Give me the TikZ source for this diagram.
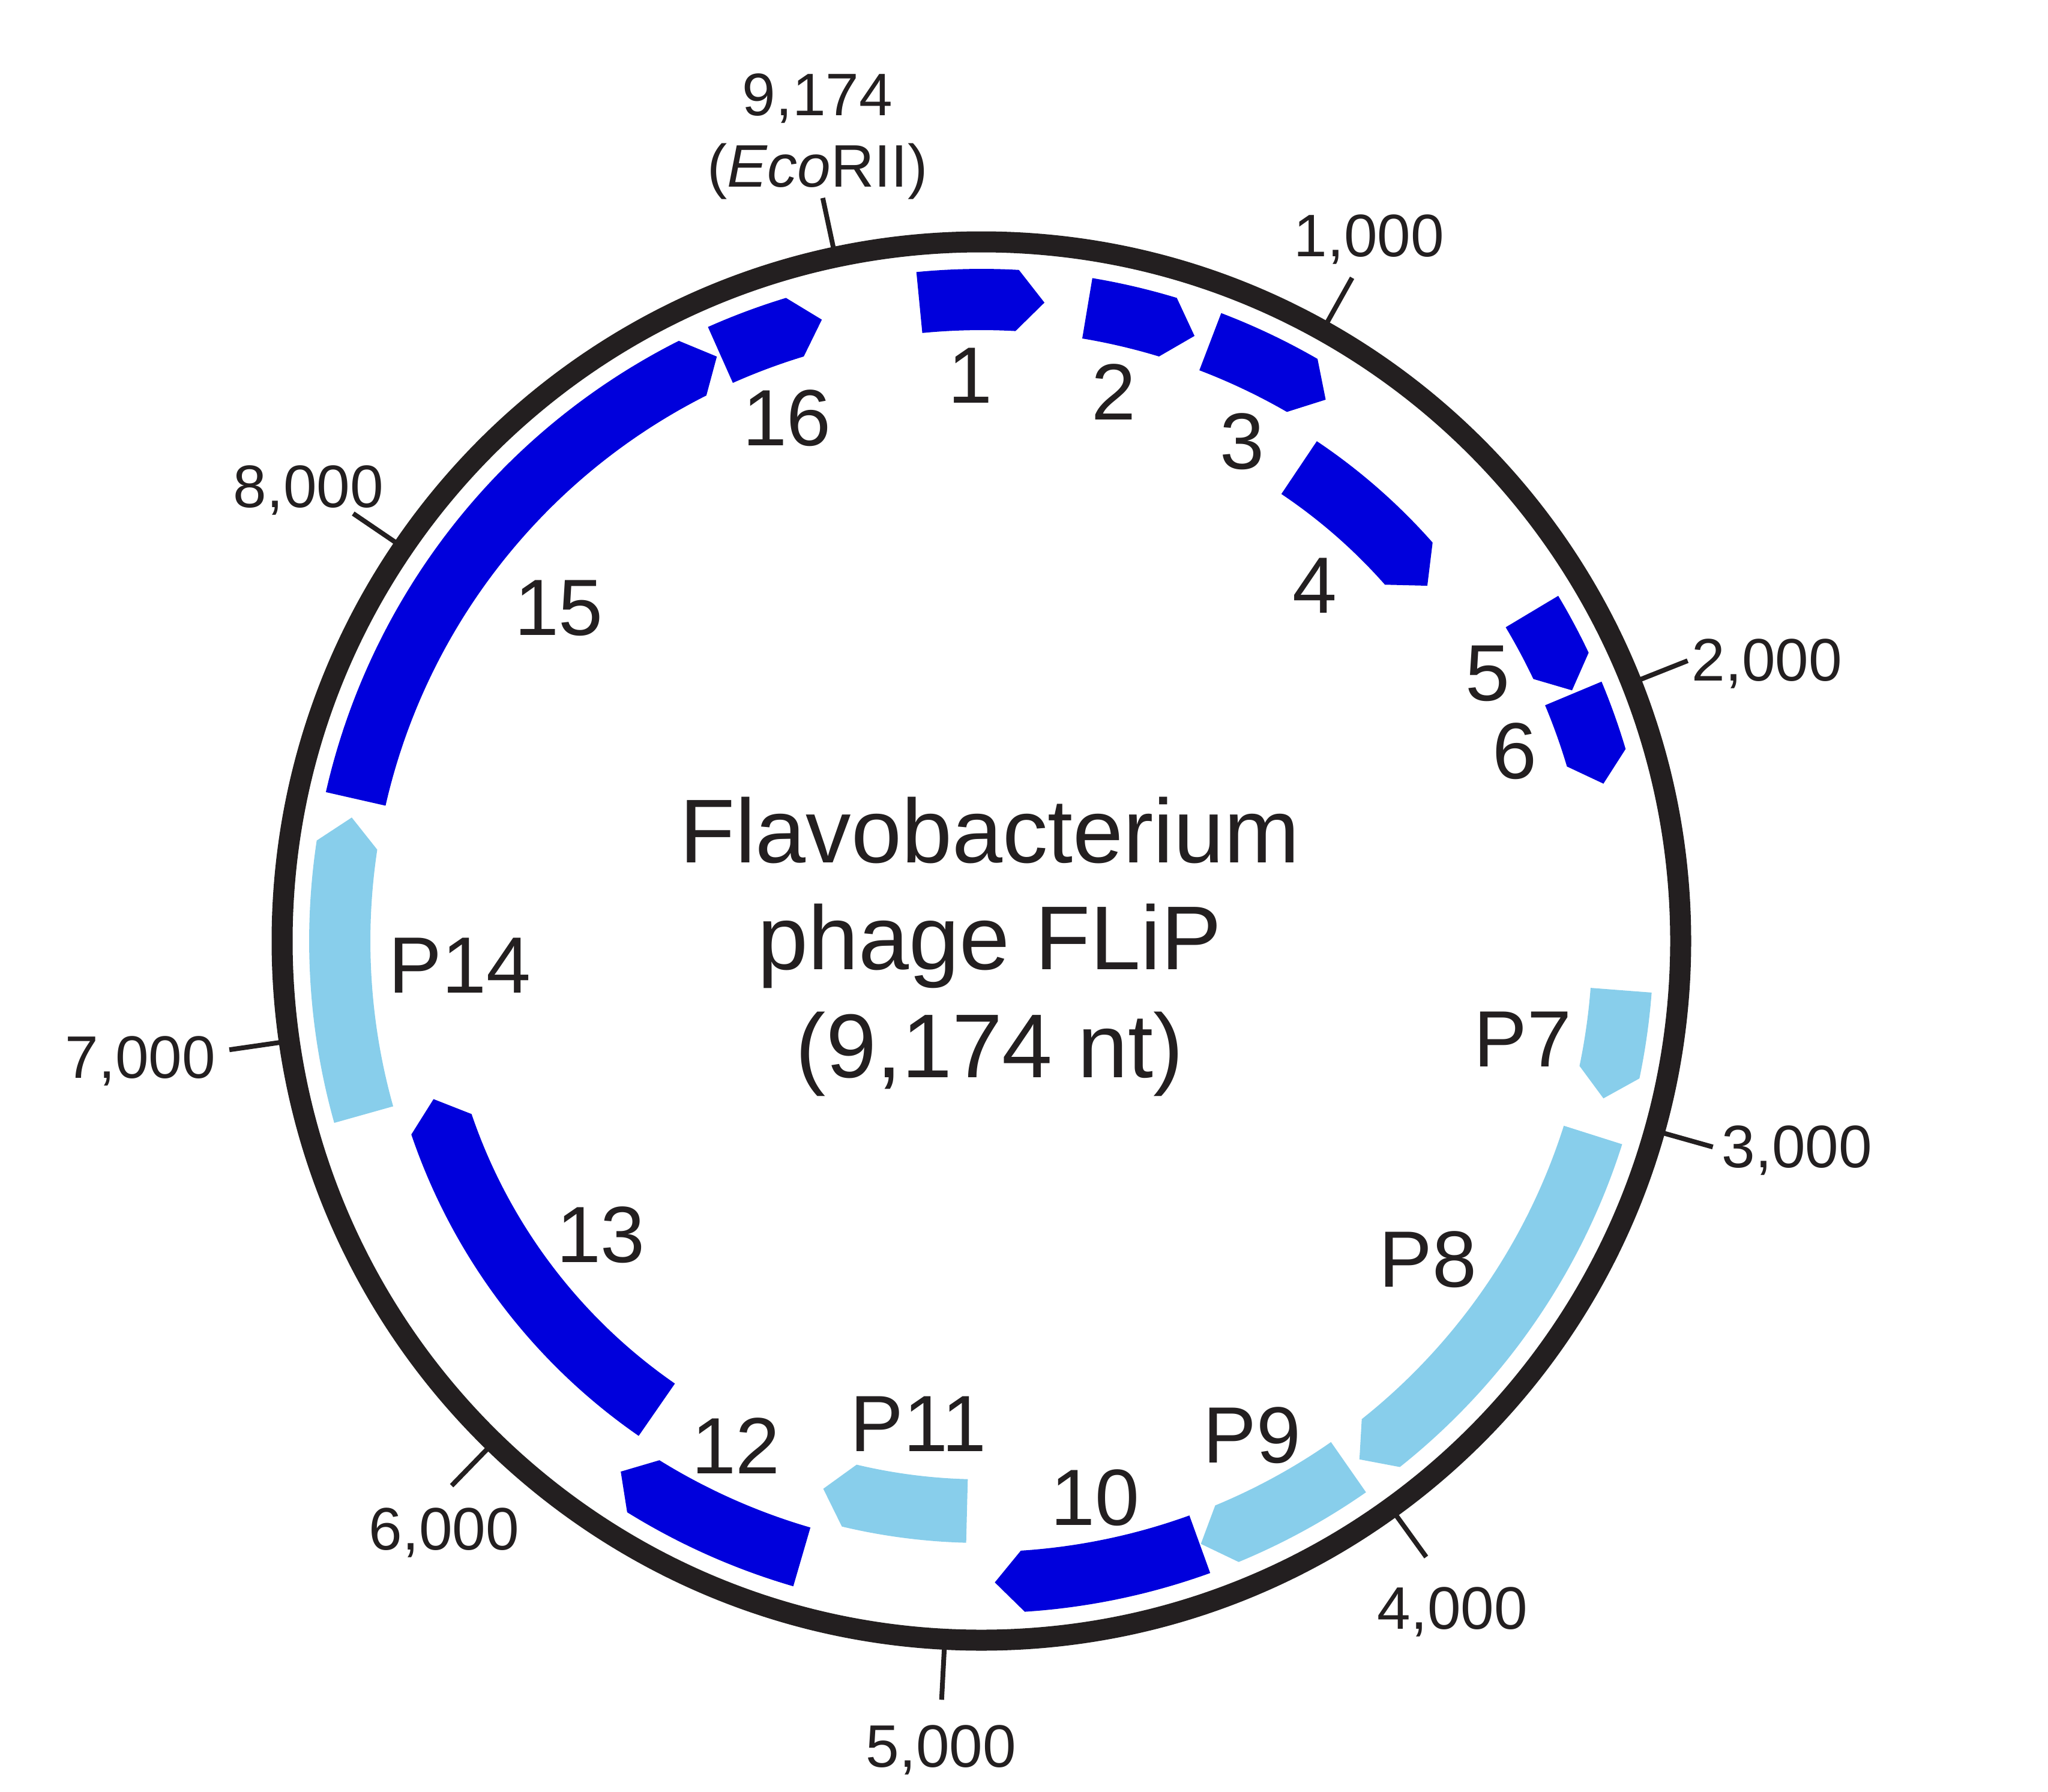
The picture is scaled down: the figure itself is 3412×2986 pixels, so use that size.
\documentclass[tikz,border=0pt]{standalone}
\usepackage{fontspec}
\setmainfont{Liberation Sans}
\definecolor{ink}{HTML}{231F20}
\definecolor{gdark}{HTML}{0000DC}
\definecolor{glight}{HTML}{88CEEB}
% gene arrow: #1 tail angle, #2 head-base angle, #3 tip angle (compass, deg), #4 inner r, #5 outer r, #6 colour
\newcommand\genearrow[6]{%
  \fill[#6] ({#1-90}:{#5}) arc[start angle={#1-90}, end angle={#2-90}, radius={#5}]
    -- ({#3-90}:{(#4+#5)/2}) -- ({#2-90}:{#4})
    arc[start angle={#2-90}, end angle={#1-90}, radius={#4}] -- cycle;}
\newcommand\ticklabelmark[1]{\draw[ink, line width=8] ({#1-90}:1168) -- ({#1-90}:1266);}
\begin{document}
\begin{tikzpicture}[x=1pt, y=-1pt,
  ticklab/.style={text=ink, inner sep=0pt, anchor=base, font=\fontsize{100}{120}\selectfont},
  genelab/.style={text=ink, inner sep=0pt, anchor=base, font=\fontsize{133}{160}\selectfont},
  titlelab/.style={text=ink, inner sep=0pt, anchor=base, font=\fontsize{151}{180}\selectfont}]
\useasboundingbox (0,0) rectangle (3412,2986);
\begin{scope}[shift={(1635,1568)}]
  % genome circle
  \draw[ink, line width=35] (0,0) circle[radius=1165];
  % position ticks
  \ticklabelmark{347.95}
  \ticklabelmark{29.2}
  \ticklabelmark{68.35}
  \ticklabelmark{105.73}
  \ticklabelmark{144.17}
  \ticklabelmark{183.0}
  \ticklabelmark{224.2}
  \ticklabelmark{261.77}
  \ticklabelmark{304.24}
  % genes, outer track 1018-1120, inner track 897-1003
  \genearrow{-5.55}{3.2}{5.64}{1018}{1120}{gdark}
  \genearrow{9.5}{16.9}{19.4}{1018}{1120}{gdark}
  \genearrow{20.9}{30.0}{32.45}{1018}{1120}{gdark}
  \genearrow{33.86}{48.55}{51.45}{897}{1003}{gdark}
  \genearrow{59.1}{64.6}{67.0}{1018}{1120}{gdark}
  \genearrow{67.3}{73.4}{75.8}{1018}{1120}{gdark}
  \genearrow{94.4}{101.8}{104.2}{1018}{1120}{glight}
  \genearrow{107.6}{141.5}{143.9}{1018}{1120}{glight}
  \genearrow{145.1}{157.5}{160.0}{1018}{1120}{glight}
  \genearrow{160.1}{176.3}{178.8}{1018}{1120}{gdark}
  \genearrow{181.45}{193.4}{196.1}{897}{1003}{glight}
  \genearrow{196.25}{211.8}{214.2}{1018}{1120}{gdark}
  \genearrow{214.7}{251.25}{253.9}{897}{1003}{gdark}
  \genearrow{254.3}{278.6}{281.1}{1018}{1120}{glight}
  \genearrow{282.8}{333.25}{335.65}{1018}{1120}{gdark}
  \genearrow{336.0}{343.1}{345.6}{1018}{1120}{gdark}
\end{scope}
% tick labels
\node[ticklab] (t9174) at (1362,193) {9,174};
\node[ticklab] (teco) at (1362,311) {(\textit{Eco}RII)};
\node[ticklab] (t1000) at (2281,427) {1,000};
\node[ticklab] (t2000) at (2944,1134) {2,000};
\node[ticklab] (t3000) at (2994,1945) {3,000};
\node[ticklab] (t4000) at (2420,2714) {4,000};
\node[ticklab] (t5000) at (1568,2944) {5,000};
\node[ticklab] (t6000) at (740,2582) {6,000};
\node[ticklab] (t7000) at (234,1796) {7,000};
\node[ticklab] (t8000) at (514,845) {8,000};
% gene labels
\node[genelab] (g1) at (1616,671) {1};
\node[genelab] (g2) at (1855,699) {2};
\node[genelab] (g3) at (2069,781) {3};
\node[genelab] (g4) at (2190,1021) {4};
\node[genelab] (g5) at (2478,1167) {5};
\node[genelab] (g6) at (2523,1297) {6};
\node[genelab] (g7) at (2537,1777) {P7};
\node[genelab] (g8) at (2379,2144) {P8};
\node[genelab] (g9) at (2086,2437) {P9};
\node[genelab] (g10) at (1824,2541) {10};
\node[genelab] (g11) at (1530,2418) {P11};
\node[genelab] (g12) at (1226,2455) {12};
\node[genelab] (g13) at (1001,2103) {13};
\node[genelab] (g14) at (766,1654) {P14};
\node[genelab] (g15) at (931,1058) {15};
\node[genelab] (g16) at (1311,742) {16};
% title
\node[titlelab] (title1) at (1649,1437) {Flavobacterium};
\node[titlelab] (title2) at (1649,1615) {phage FLiP};
\node[titlelab] (title3) at (1649,1795) {(9,174 nt)};
\end{tikzpicture}
\end{document}
